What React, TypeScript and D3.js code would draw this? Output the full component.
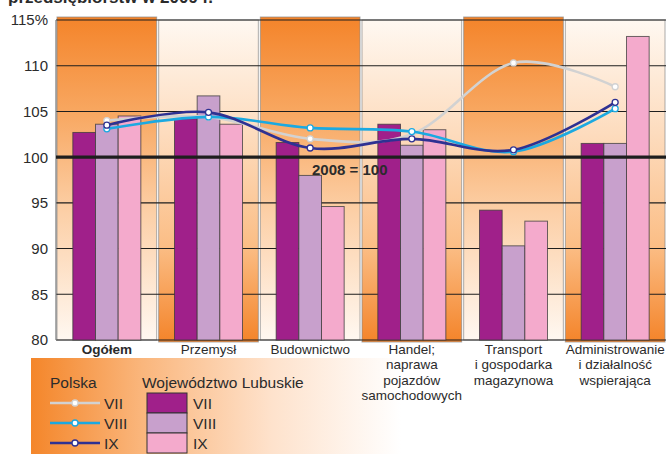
import React from "react";
import * as d3 from "d3";

const categoryLabels: string[][] = [
  ["Ogółem"],
  ["Przemysł"],
  ["Budownictwo"],
  ["Handel;", "naprawa", "pojazdów", "samochodowych"],
  ["Transport", "i gospodarka", "magazynowa"],
  ["Administrowanie", "i działalność", "wspierająca"],
];
const categories = categoryLabels.map((l) => l.join(" "));

const barSeriesNames = ["VII", "VIII", "IX"];
const lubuskieVII = [102.7, 104.2, 101.6, 103.6, 94.2, 101.5];
const lubuskieVIII = [103.6, 106.7, 98.0, 101.3, 90.3, 101.5];
const lubuskieIX = [104.5, 103.6, 94.6, 103.0, 93.0, 113.2];

const polskaVII = [104.0, 104.4, 102.0, 102.5, 110.3, 107.7];
const polskaVIII = [103.1, 104.4, 103.2, 102.8, 100.6, 105.3];
const polskaIX = [103.5, 104.9, 101.0, 102.0, 100.8, 106.0];

const yTicks = [80, 85, 90, 95, 100, 105, 110, 115];

const W = 666;
const H = 454;
const FONT = "'Liberation Sans', Arial, sans-serif";
const TXT = "#2b2b2b";

const barColors = ["#A0208A", "#C8A0CC", "#F4AACC"];
const lineColors = ["#D2D2D2", "#1BA9E1", "#2E3192"];

export default function App() {
  const x = d3.scaleBand<string>().domain(categories).range([56, 666]).padding(0);
  const y = d3.scaleLinear().domain([80, 115]).range([340, 20]);
  const groupW = 68;
  const inner = d3.scaleBand<string>().domain(barSeriesNames).range([0, groupW]).padding(0);
  const barSeries = [lubuskieVII, lubuskieVIII, lubuskieIX];
  const lineSeries = [polskaVII, polskaVIII, polskaIX];
  const center = (c: string) => (x(c) as number) + x.bandwidth() / 2;
  const line = d3
    .line<number>()
    .x((_, i) => center(categories[i]))
    .y((d) => y(d))
    .curve(d3.curveCardinal.tension(0));

  return (
    <svg width={W} height={H} style={{ position: "absolute", left: 0, top: 0, background: "#fff" }} fontFamily={FONT}>
      <defs>
        <linearGradient id="oddG" x1="0" y1="0" x2="0" y2="1">
          <stop offset="0" stopColor="#F4842A" />
          <stop offset="0.3" stopColor="#F8A862" />
          <stop offset="0.6" stopColor="#FCCFA6" />
          <stop offset="1" stopColor="#FFF8F1" />
        </linearGradient>
        <linearGradient id="evenG" x1="0" y1="0" x2="0" y2="1">
          <stop offset="0" stopColor="#FFF8F1" />
          <stop offset="0.35" stopColor="#FDDCBE" />
          <stop offset="0.7" stopColor="#FBBE86" />
          <stop offset="1" stopColor="#F4842A" />
        </linearGradient>
        <linearGradient id="legG" x1="0" y1="0" x2="1" y2="0">
          <stop offset="0" stopColor="#F4862A" />
          <stop offset="0.3" stopColor="#FAB67C" />
          <stop offset="0.65" stopColor="#FEE2CC" />
          <stop offset="1" stopColor="#FFFFFF" />
        </linearGradient>
      </defs>

      <text x={8} y={3} fontSize={17} fontWeight="bold" fill={TXT}>
        przedsiębiorstw w 2009 r.
      </text>

      {/* band backgrounds */}
      {categories.map((c, i) => {
        const x0 = x(c) as number;
        const odd = i % 2 === 0;
        const top = odd ? 17 : y(115);
        const bottom = odd ? y(80) : y(80) + 2;
        return (
          <rect
            key={c}
            x={x0 + 1}
            y={top}
            width={x.bandwidth() - 2}
            height={bottom - top}
            fill={odd ? "url(#oddG)" : "url(#evenG)"}
            stroke="#8a8a8a"
            strokeOpacity={0.7}
            strokeWidth={1}
          />
        );
      })}

      {/* grid lines */}
      {yTicks.map((t) => (
        <line key={t} x1={56} x2={666} y1={y(t)} y2={y(t)} stroke="#1e1e1e" strokeWidth={1.1} />
      ))}
      <line x1={56} x2={56} y1={y(115)} y2={y(80)} stroke="#777" strokeWidth={1.2} />

      {/* y tick labels */}
      {yTicks.map((t) => (
        <text key={t} x={48} y={y(t)} dy="0.36em" textAnchor="end" fontSize={15} fill={TXT}>
          {t === 115 ? "115%" : t}
        </text>
      ))}

      {/* bars */}
      {categories.map((c, i) => (
        <g key={c} transform={`translate(${center(c) - groupW / 2},0)`}>
          {barSeries.map((s, k) => (
            <rect
              key={k}
              x={inner(barSeriesNames[k]) as number}
              y={y(s[i])}
              width={inner.bandwidth()}
              height={y(80) - y(s[i])}
              fill={barColors[k]}
              stroke="#3a3a3a"
              strokeOpacity={0.75}
              strokeWidth={1}
            />
          ))}
        </g>
      ))}

      {/* base line 100 */}
      <line x1={56} x2={666} y1={y(100)} y2={y(100)} stroke="#1e1e1e" strokeWidth={3.2} />
      <text x={312} y={175} fontSize={15} fontWeight="bold" fill={TXT}>
        2008 = 100
      </text>

      {/* Polska lines */}
      {lineSeries.map((s, k) => (
        <g key={k}>
          <path d={line(s) as string} fill="none" stroke={lineColors[k]} strokeWidth={2.6} />
          {s.map((v, i) => (
            <circle
              key={i}
              cx={center(categories[i])}
              cy={y(v)}
              r={3}
              fill="#fff"
              stroke={lineColors[k]}
              strokeWidth={1.3}
            />
          ))}
        </g>
      ))}

      {/* legend background */}
      <rect x={31} y={358} width={370} height={96} fill="url(#legG)" />

      {/* x labels */}
      {categories.map((c, i) => (
        <text
          key={c}
          x={center(c)}
          textAnchor="middle"
          fontSize={13.5}
          fill={TXT}
          fontWeight={i === 0 ? "bold" : "normal"}
        >
          {categoryLabels[i].map((l, j) => (
            <tspan key={j} x={center(c)} y={354 + j * 15.3}>
              {l}
            </tspan>
          ))}
        </text>
      ))}

      {/* legend */}
      <text x={50} y={388} fontSize={15.5} fill={TXT}>Polska</text>
      <text x={142} y={388} fontSize={15.5} fill={TXT}>Województwo Lubuskie</text>
      {barSeriesNames.map((n, k) => {
        const cy = 403 + k * 20;
        return (
          <g key={n}>
            <line x1={50} x2={100} y1={cy} y2={cy} stroke={lineColors[k]} strokeWidth={2.6} />
            <circle cx={75} cy={cy} r={3} fill="#fff" stroke={lineColors[k]} strokeWidth={1.3} />
            <text x={104} y={cy} dy="0.36em" fontSize={15.5} fill={TXT}>{n}</text>
            <rect x={147} y={cy - 10} width={40} height={20} fill={barColors[k]} stroke="#333" strokeWidth={1} />
            <text x={193} y={cy} dy="0.36em" fontSize={15.5} fill={TXT}>{n}</text>
          </g>
        );
      })}
    </svg>
  );
}
